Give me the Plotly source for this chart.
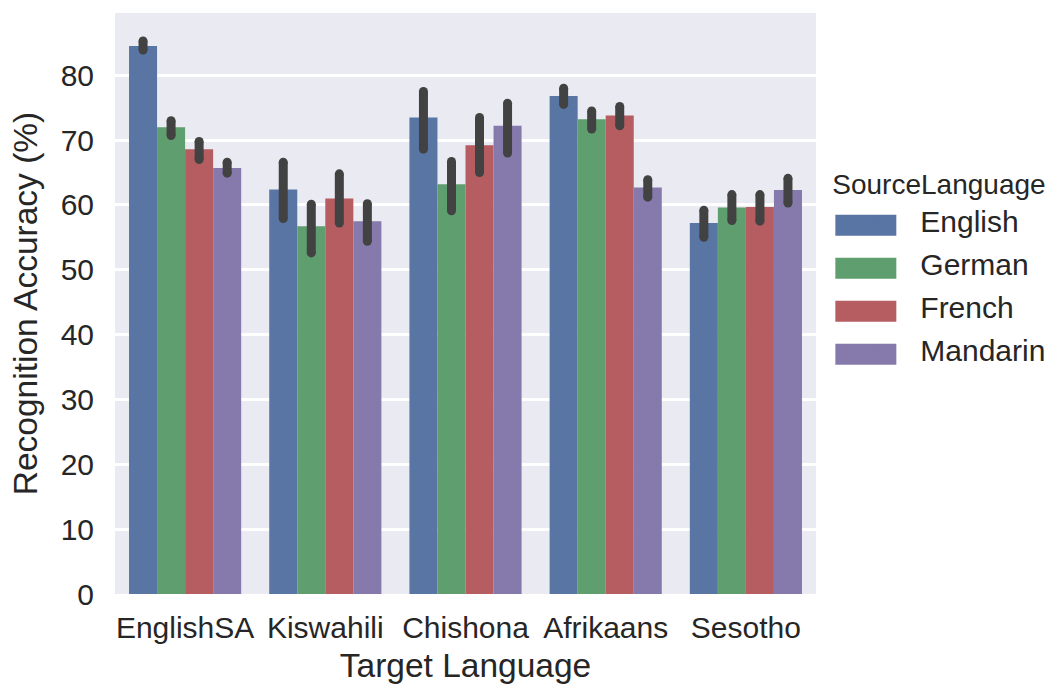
import plotly.graph_objects as go
import numpy as np

categories = ["EnglishSA", "Kiswahili", "Chishona", "Afrikaans", "Sesotho"]
sources = ["English", "German", "French", "Mandarin"]

mean_english = [84.5, 62.4, 73.5, 76.8, 57.2]
mean_german = [72.0, 56.7, 63.2, 73.2, 59.6]
mean_french = [68.6, 61.0, 69.2, 73.8, 59.7]
mean_mandarin = [65.7, 57.5, 72.2, 62.7, 62.3]

hi_english = [85.3, 66.6, 77.5, 78.0, 59.2]
lo_english = [83.9, 57.9, 68.6, 75.5, 55.0]
hi_german = [73.0, 60.1, 66.7, 74.5, 61.6]
lo_german = [70.7, 52.6, 59.1, 71.7, 57.6]
hi_french = [69.8, 64.8, 73.5, 75.2, 61.6]
lo_french = [67.0, 57.2, 65.0, 72.2, 57.5]
hi_mandarin = [66.6, 60.2, 75.7, 63.9, 64.1]
lo_mandarin = [64.9, 54.4, 68.0, 61.2, 60.3]

y_ticks = [0, 10, 20, 30, 40, 50, 60, 70, 80]

colors = ["#5875a4", "#5f9e6e", "#b55d60", "#857aab"]
err_color = "#424242"
FONT = "Liberation Sans, Arial, sans-serif"

means = [mean_english, mean_german, mean_french, mean_mandarin]
his = [hi_english, hi_german, hi_french, hi_mandarin]
los = [lo_english, lo_german, lo_french, lo_mandarin]

fig = go.Figure()
for name, m, hi, lo, c in zip(sources, means, his, los, colors):
    m = np.array(m); hi = np.array(hi); lo = np.array(lo)
    fig.add_trace(go.Bar(
        x=categories, y=m, name=name, offsetgroup=name, legendgroup=name,
        showlegend=False,
        marker=dict(color=c, line=dict(width=0)),
        error_y=dict(type="data", symmetric=False, array=hi - m, arrayminus=m - lo,
                     color=err_color, thickness=9, width=0),
    ))
for name, hi, lo in zip(sources, his, los):
    fig.add_trace(go.Scatter(
        x=categories + categories, y=list(hi) + list(lo), mode="markers",
        offsetgroup=name, legendgroup=name, showlegend=False, hoverinfo="skip",
        marker=dict(color=err_color, size=9, line=dict(width=0)),
    ))
# legend entries (text); the wide colour patches are drawn as shapes below
for name, c in zip(sources, colors):
    fig.add_trace(go.Scatter(
        x=[None], y=[None], mode="markers", name=name, legendgroup=name,
        marker=dict(color=c, opacity=0), hoverinfo="skip",
    ))

# paper-y centres of the legend patches (screen y 225, 268, 311, 354)
legend_patch_y = [0.6346, 0.5606, 0.4866, 0.4127]
for c, yc in zip(colors, legend_patch_y):
    fig.add_shape(type="rect", xref="paper", yref="paper",
                  x0=1.0276, x1=1.1146, y0=yc - 0.018, y1=yc + 0.018,
                  fillcolor=c, line=dict(width=0), layer="above")

fig.update_layout(
    width=1050, height=686,
    margin=dict(l=115, r=234, t=13, b=92, autoexpand=False),
    paper_bgcolor="white", plot_bgcolor="#eaeaf2",
    barmode="group", bargap=0.2, bargroupgap=0,
    scattermode="group", scattergap=0.2,
    font=dict(family=FONT, size=30, color="#262626"),
    legend=dict(
        title=dict(text="SourceLanguage", font=dict(size=28)),
        x=1.0204, xanchor="left", y=0.7505, yanchor="top",
        font=dict(size=30), itemwidth=80, tracegroupgap=1,
        bgcolor="rgba(0,0,0,0)",
    ),
    xaxis=dict(
        title=dict(text="Target Language", font=dict(size=33.5), standoff=10),
        showgrid=False, zeroline=False, showline=False, ticks="",
        ticklabelstandoff=13, automargin=False,
    ),
    yaxis=dict(
        title=dict(text="Recognition Accuracy (%)", font=dict(size=33.5), standoff=12),
        range=[0, 89.6], tickvals=y_ticks, showgrid=True, gridcolor="white",
        gridwidth=2.5, zeroline=False, showline=False, ticks="",
        ticklabelstandoff=20, automargin=False,
    ),
)

fig.write_html("out.html", config={"displayModeBar": False},
               post_script="document.body.style.margin='0';")
